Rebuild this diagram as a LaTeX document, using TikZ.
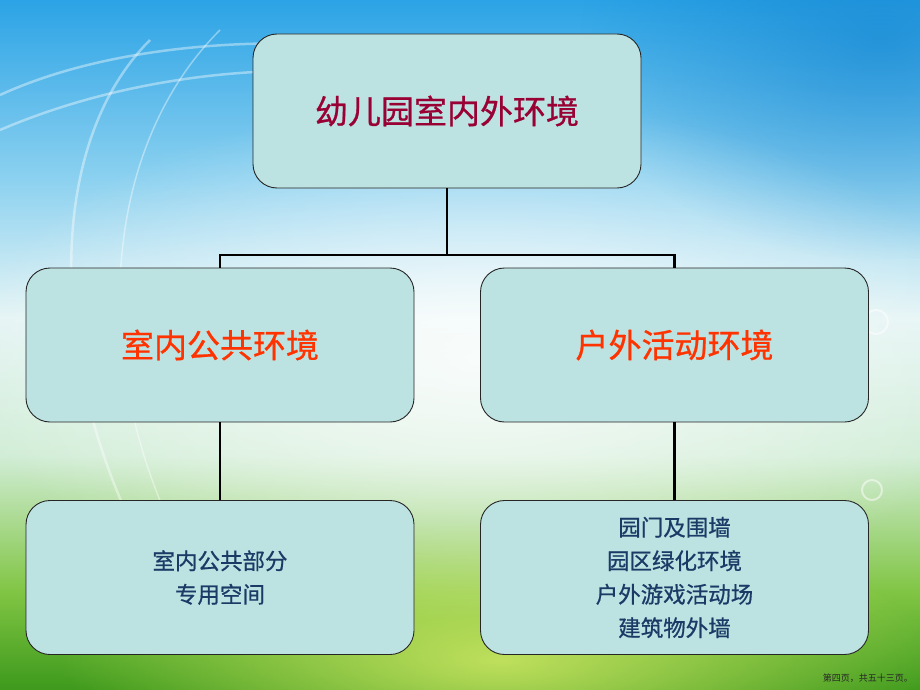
\documentclass[tikz,border=0pt]{standalone}
\usepackage{fontspec}
\newfontfamily\cjk[RawFeature={embolden=0.7}]{Noto Sans CJK SC}
\newfontfamily\cjkr{Noto Sans CJK SC}
\usetikzlibrary{fadings}
\tikzfading[name=glow, inner color=transparent!0, outer color=transparent!100]
\definecolor{boxfill}{HTML}{BDE2E2}
\definecolor{topred}{HTML}{990033}
\definecolor{midred}{HTML}{FF3300}
\definecolor{lowblue}{HTML}{1B3B66}
\definecolor{deepblue}{HTML}{1283D0}
\definecolor{lime}{HTML}{D2EA66}
\pgfdeclareverticalshading{bgshade}{100bp}{%
  rgb(0bp)=(0.24,0.60,0.11);
  rgb(25bp)=(0.24,0.60,0.11);
  rgb(32bp)=(0.50,0.77,0.26);
  rgb(42bp)=(0.82,0.93,0.84);
  rgb(52bp)=(0.90,0.96,0.96);
  rgb(62bp)=(0.55,0.82,0.94);
  rgb(75bp)=(0.17,0.64,0.90);
  rgb(100bp)=(0.17,0.64,0.90)}
\begin{document}
\begin{tikzpicture}[x=1pt,y=-1pt,
  box/.style={draw=black!85, line width=0.9pt, fill=boxfill, rounded corners=24pt,
    minimum width=388pt, minimum height=154pt, inner sep=0pt, align=center},
  link/.style={draw=black, line width=2.4pt},
  swoosh/.style={draw=white, opacity=0.4, line width=2.5pt}]
% background
\useasboundingbox (0,0) rectangle (920,690);
\shade[shading=bgshade] (0,0) rectangle (920,690);
\fill[deepblue, path fading=glow, opacity=0.6] (880,40) ellipse [x radius=300pt, y radius=220pt];
\fill[lime, path fading=glow, opacity=0.85] (500,660) ellipse [x radius=440pt, y radius=140pt];
\fill[white, path fading=glow, opacity=0.8] (480,360) ellipse [x radius=520pt, y radius=260pt];
\draw[swoosh] (0,95) .. controls (120,40) and (300,30) .. (460,60);
\draw[swoosh] (0,130) .. controls (140,70) and (300,60) .. (420,80);
\draw[swoosh] (150,40) .. controls (40,150) and (50,380) .. (150,560);
\draw[swoosh, line width=1.5pt] (220,30) .. controls (90,160) and (90,400) .. (200,580);
\draw[white, opacity=0.5, line width=2pt] (876,322) circle [radius=12pt];
\draw[white, opacity=0.5, line width=2pt] (872,490) circle [radius=10pt];
% nodes
\node[box, font=\cjk\fontsize{33}{40}\selectfont, text=topred] (top) at (447,111) {幼儿园室内外环境};
\node[box, font=\cjk\fontsize{33}{40}\selectfont, text=midred] (left) at (220,345) {室内公共环境};
\node[box, font=\cjk\fontsize{33}{40}\selectfont, text=midred] (right) at (674.5,345) {户外活动环境};
\node[box, font=\cjk\fontsize{22.5}{33.5}\selectfont, text=lowblue] (lowleft) at (220,577.5) {室内公共部分\\专用空间};
\node[box, font=\cjk\fontsize{22.5}{33.5}\selectfont, text=lowblue] (lowright) at (674.5,577.5) {园门及围墙\\园区绿化环境\\户外游戏活动场\\建筑物外墙};
\coordinate (j) at (447,255);
% connectors
\draw[link] (top.south) -- (j);
\draw[link] (left.north) |- (j) -| (right.north);
\draw[link] (left.south) -- (lowleft.north);
\draw[link] (right.south) -- (lowright.north);
% footer
\node[anchor=east, font=\cjkr\fontsize{9}{10}\selectfont, text=black!85, inner sep=0pt] (foot) at (913,678) {第四页，共五十三页。};
\end{tikzpicture}
\end{document}
